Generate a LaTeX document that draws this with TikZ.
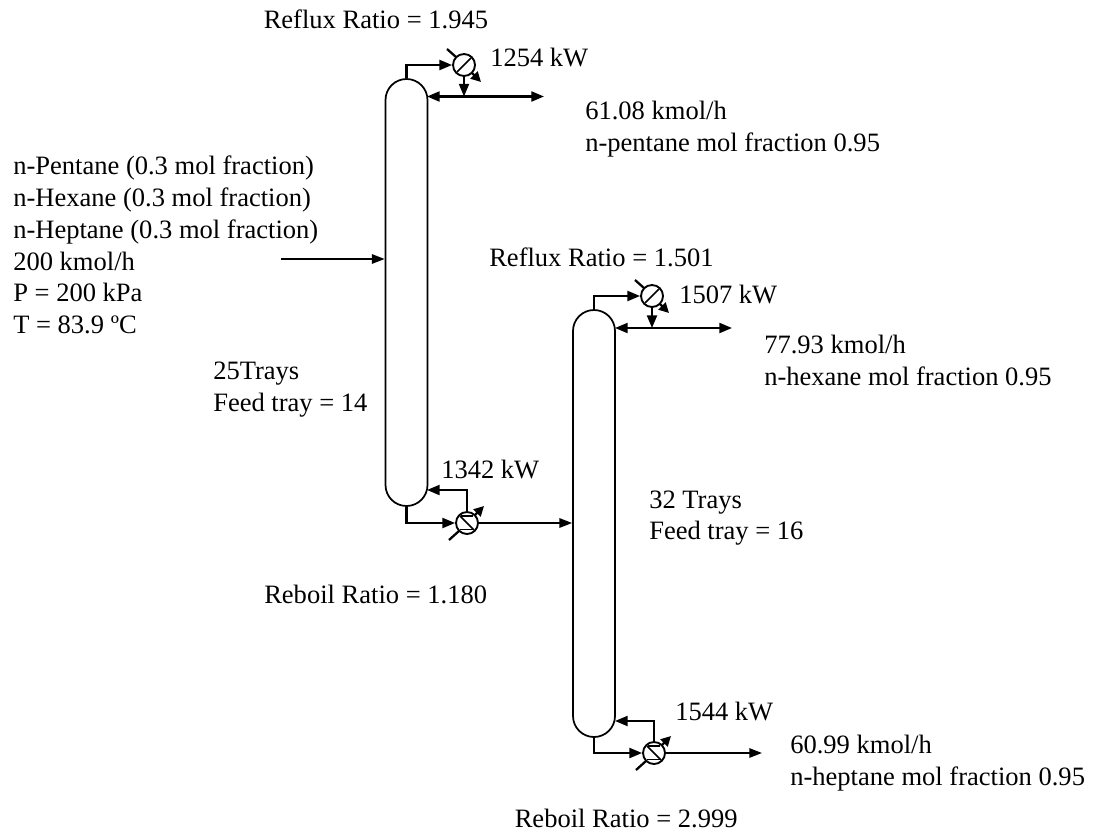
\documentclass[tikz,border=0pt]{standalone}
\usepackage{fontspec}
\setmainfont{Liberation Serif}
\usetikzlibrary{arrows.meta,calc}
\tikzset{
  x=0.75pt,y=-0.75pt,
  column/.style={draw,line width=1.3pt,fill=white,rounded corners=15.75pt,minimum width=31.5pt,minimum height=320.25pt,inner sep=0pt},
  stream/.style={line width=1.6pt,-{Triangle[length=9.5pt,width=7.5pt]}},
  thinstream/.style={line width=1.3pt,-{Triangle[length=9.5pt,width=7pt]}},
  bistream/.style={line width=1.6pt,{Triangle[length=9.5pt,width=7.5pt]}-{Triangle[length=9.5pt,width=7.5pt]}},
  hx/.style={circle,draw,line width=1.4pt,fill=white,minimum size=16.5pt,inner sep=0pt},
  inner line/.style={line width=1.1pt},
  util/.style={line width=1.7pt},
  utilarrow/.style={line width=1.7pt,-{Triangle[length=7.5pt,width=7.5pt]}},
  lab/.style={anchor=base west,inner sep=0pt,font=\fontsize{19.9pt}{23pt}\selectfont},
}
\newcommand{\condenserdetail}[1]{%
  \draw[inner line] ($(#1.center)+(-7,7)$) -- ($(#1.center)+(7,-7)$);
  \draw[util] ($(#1.center)+(-17,-16)$) -- ($(#1.center)+(-8,-8)$);
  \draw[utilarrow] ($(#1.center)+(8,8)$) -- ($(#1.center)+(17,17)$);
}
\newcommand{\reboilerdetail}[1]{%
  \draw[inner line] ($(#1.center)+(-7,-7)$) -- ($(#1.center)+(7,7)$);
  \draw[inner line] ($(#1.center)+(-6,-7)$) -- ($(#1.center)+(6,-7)$);
  \draw[inner line] ($(#1.center)+(-7,6.5)$) -- ($(#1.center)+(7,6.5)$);
  \draw[util] ($(#1.center)+(-18,17)$) -- ($(#1.center)+(-8,8)$);
  \draw[utilarrow] ($(#1.center)+(8,-8)$) -- ($(#1.center)+(17,-17)$);
}
\begin{document}
\begin{tikzpicture}
\useasboundingbox (0,0) rectangle (1093,835);
% columns
\node[column] (c1) at (406.5,292.5) {};
\node[column] (c2) at (594,523.5) {};
% heat exchangers
\node[hx] (cd1) at (464,65) {};
\node[hx] (rb1) at (467,523) {};
\node[hx] (cd2) at (652,296) {};
\node[hx] (rb2) at (654,753) {};
\condenserdetail{cd1}
\condenserdetail{cd2}
\reboilerdetail{rb1}
\reboilerdetail{rb2}
% free ends and tap points
\coordinate (feed) at (281,259);
\coordinate (d1end) at (544,96.5);
\coordinate (d1tap) at (464,96.5);
\coordinate (d2end) at (732,328);
\coordinate (d2tap) at (652,328);
\coordinate (b2end) at (762,753);
\coordinate (rr1) at (427,490);
\coordinate (rr2) at (615,721);
\coordinate (rl1) at (427,96.5);
\coordinate (rl2) at (615,328);
% column 1
\draw[thinstream] (feed) -- (feed -| c1.west);
\draw[stream] (c1.north) |- (cd1.west);
\draw[stream] (cd1.south) -- (d1tap);
\draw[bistream] (rl1) -- (d1end);
\draw[stream] (c1.south) |- (rb1.west);
\draw[stream] (rb1.north) |- (rr1);
\draw[thinstream] (rb1.east) -- (rb1.east -| c2.west);
% column 2
\draw[stream] (c2.north) |- (cd2.west);
\draw[stream] (cd2.south) -- (d2tap);
\draw[bistream] (rl2) -- (d2end);
\draw[stream] (c2.south) |- (rb2.west);
\draw[stream] (rb2.north) |- (rr2);
\draw[thinstream] (rb2.east) -- (b2end);
% labels
\node[lab] (t1) at (263.5,28.5) {Reflux Ratio = 1.945};
\node[lab] (t2) at (490,66) {1254 kW};
\node[lab] (t3) at (585,119) {61.08 kmol/h};
\node[lab] (t4) at (585,151) {n-pentane mol fraction 0.95};
\node[lab] (t5) at (13,174.3) {n-Pentane (0.3 mol fraction)};
\node[lab] (t6) at (13,206) {n-Hexane (0.3 mol fraction)};
\node[lab] (t7) at (13,238.3) {n-Heptane (0.3 mol fraction)};
\node[lab] (t8) at (13,270) {200 kmol/h};
\node[lab] (t9) at (13,301.7) {P = 200 kPa};
\node[lab] (t10) at (13,333.3) {T = 83.9 ºC};
\node[lab] (t11) at (213,379.5) {25Trays};
\node[lab] (t12) at (213,411.5) {Feed tray = 14};
\node[lab] (t13) at (489,266) {Reflux Ratio = 1.501};
\node[lab] (t14) at (679,303.5) {1507 kW};
\node[lab] (t15) at (764,353) {77.93 kmol/h};
\node[lab] (t16) at (764,385) {n-hexane mol fraction 0.95};
\node[lab] (t17) at (441,478.5) {1342 kW};
\node[lab] (t18) at (649,508.5) {32 Trays};
\node[lab] (t19) at (649,539) {Feed tray = 16};
\node[lab] (t20) at (264,603.5) {Reboil Ratio = 1.180};
\node[lab] (t21) at (675,720) {1544 kW};
\node[lab] (t22) at (790,753) {60.99 kmol/h};
\node[lab] (t23) at (790,785) {n-heptane mol fraction 0.95};
\node[lab] (t24) at (514.5,827.5) {Reboil Ratio = 2.999};
\end{tikzpicture}
\end{document}
